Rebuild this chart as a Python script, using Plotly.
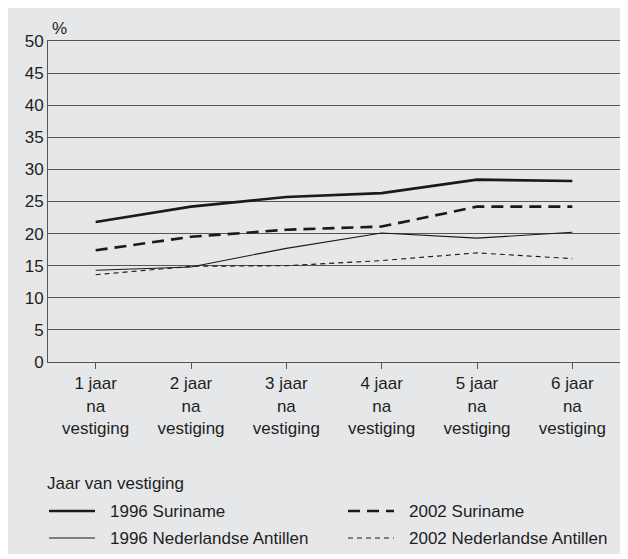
import plotly.graph_objects as go

categories = ["1 jaar<br>na<br>vestiging", "2 jaar<br>na<br>vestiging", "3 jaar<br>na<br>vestiging",
              "4 jaar<br>na<br>vestiging", "5 jaar<br>na<br>vestiging", "6 jaar<br>na<br>vestiging"]

suriname_1996 = [21.8, 24.2, 25.7, 26.3, 28.4, 28.2]
suriname_2002 = [17.4, 19.5, 20.6, 21.1, 24.2, 24.2]
antillen_1996 = [14.3, 14.8, 17.7, 20.1, 19.3, 20.2]
antillen_2002 = [13.6, 14.9, 15.0, 15.8, 17.0, 16.1]

series = [
    ("1996 Suriname", suriname_1996, 2.6, "solid"),
    ("2002 Suriname", suriname_2002, 2.6, "12px,7px"),
    ("1996 Nederlandse Antillen", antillen_1996, 1.1, "solid"),
    ("2002 Nederlandse Antillen", antillen_2002, 1.1, "5px,4px"),
]

grey = "#e6e7e8"
ink = "#1a1a1a"
txt = "#1e1e1e"
font = "Liberation Sans, Arial, sans-serif"

fig = go.Figure()
for name, vals, w, dash in series:
    fig.add_trace(go.Scatter(x=categories, y=vals, name=name, mode="lines",
                             line=dict(color=ink, width=w, dash=dash)))

# page has an 8px body margin; positions below are in window pixels
# plot area in window: left 48, right 620, top 41, bottom 362
pw, ph = 572, 321
def px_x(x):
    return (x - 48) / pw
def px_y(y):
    return (362 - y) / ph

fig.add_shape(type="rect", xref="paper", yref="paper", layer="below",
              x0=px_x(6), x1=px_x(640), y0=px_y(554), y1=px_y(0),
              fillcolor=grey, line_width=0)

fig.add_annotation(text="%", xref="paper", yref="paper", x=px_x(59), y=px_y(28),
                   xanchor="center", yanchor="middle",
                   showarrow=False, font=dict(size=17, color=txt))

# legend drawn by hand to match the original's long line samples
fig.add_annotation(text="Jaar van vestiging", xref="paper", yref="paper",
                   x=px_x(45), y=px_y(483), xanchor="left", yanchor="middle",
                   showarrow=False, font=dict(size=17, color=txt))
slots = [(49, 511), (348, 511), (49, 538), (348, 538)]
for (name, vals, w, dash), (lx, ly) in zip(series, slots):
    fig.add_shape(type="line", xref="paper", yref="paper",
                  x0=px_x(lx), x1=px_x(lx + 46), y0=px_y(ly), y1=px_y(ly),
                  line=dict(color=ink, width=w, dash=dash))
    fig.add_annotation(text=name, xref="paper", yref="paper",
                       x=px_x(lx + 59), y=px_y(ly), xanchor="left", yanchor="middle",
                       showarrow=False, font=dict(size=17, color=txt))

fig.update_layout(
    width=620, height=551,
    margin=dict(l=40, r=8, t=33, b=197),
    paper_bgcolor="white", plot_bgcolor="white",
    font=dict(family=font, size=17, color=txt),
    showlegend=False,
)
fig.update_xaxes(range=[-0.5, 5.5], showgrid=False, showline=True, linecolor="#555",
                 mirror=True, ticks="outside", ticklen=6, tickcolor="#555",
                 tickfont=dict(size=17))
fig.update_yaxes(range=[0, 50], dtick=5, showgrid=True, gridcolor="#555", gridwidth=1,
                 showline=True, linecolor="#555", mirror=True, zeroline=False,
                 ticks="", tickfont=dict(size=17))

fig.write_html("out.html")
